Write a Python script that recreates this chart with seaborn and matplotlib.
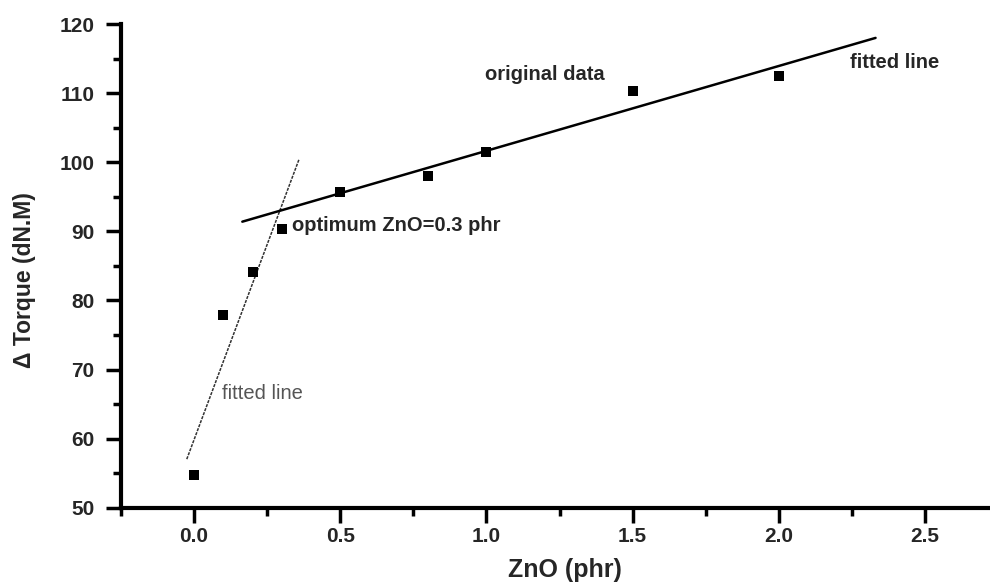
import numpy as np
import pandas as pd
import matplotlib
matplotlib.use("Agg")
import matplotlib.pyplot as plt
import seaborn as sns
from matplotlib.ticker import MultipleLocator

# ---- data ----
zno = [0.0, 0.1, 0.2, 0.3, 0.5, 0.8, 1.0, 1.5, 2.0]
torque = [54.8, 77.9, 84.1, 90.4, 95.7, 98.0, 101.5, 110.35, 112.5]
# points used for the two fitted lines
low_idx = [0, 1, 2, 3]
high_idx = [4, 5, 6, 7, 8]
# drawn extent of each fitted line (x range)
low_range = [-0.025, 0.359]
high_range = [0.165, 2.331]
x_ticks = [0.0, 0.5, 1.0, 1.5, 2.0, 2.5]
y_ticks = [50, 60, 70, 80, 90, 100, 110, 120]

sns.set_theme(style="ticks")
plt.rcParams['font.family'] = ['Liberation Sans', 'DejaVu Sans']

fig = plt.figure(figsize=(9.9, 5.86), dpi=100)
ax = fig.add_axes([121/990, 1-507.7/586, (990-121)/990, (507.7-24)/586])

df = pd.DataFrame({"ZnO": zno, "Torque": torque})

def fit_line(idx, rng):
    xs = np.array([zno[i] for i in idx])
    ys = np.array([torque[i] for i in idx])
    k, b = np.polyfit(xs, ys, 1)
    xx = np.array(rng)
    return pd.DataFrame({"x": xx, "y": k * xx + b})

low = fit_line(low_idx, low_range)
high = fit_line(high_idx, high_range)

sns.lineplot(data=low, x="x", y="y", ax=ax, color="#333333", lw=1.1,
             linestyle=(0, (2, 0.8)))
sns.lineplot(data=high, x="x", y="y", ax=ax, color="black", lw=1.8)
sns.scatterplot(data=df, x="ZnO", y="Torque", ax=ax, marker="s", s=45,
                color="black", edgecolor="black", linewidth=0, zorder=5)

ax.set_xlim(-0.25, 2.7225)
ax.set_ylim(50, 120)
ax.set_xticks(x_ticks)
ax.set_xticklabels([f"{v:.1f}" for v in x_ticks])
ax.set_yticks(y_ticks)
ax.set_yticklabels([str(v) for v in y_ticks])
ax.xaxis.set_minor_locator(MultipleLocator(0.25))
ax.yaxis.set_minor_locator(MultipleLocator(5))

for s in ["top", "right"]:
    ax.spines[s].set_visible(False)
for s in ["left", "bottom"]:
    ax.spines[s].set_linewidth(3)
    ax.spines[s].set_color("black")

ax.tick_params(which="major", length=11, width=2.5, color="black",
               labelsize=15)
ax.tick_params(which="minor", length=6, width=2.5, color="black")
ax.tick_params(axis="x", which="major", pad=3)
ax.tick_params(axis="y", which="major", pad=8)
for lab in ax.get_xticklabels() + ax.get_yticklabels():
    lab.set_fontweight("bold")

ax.set_xlabel("ZnO (phr)", fontsize=18, fontweight="bold", va="center")
ax.set_ylabel("Δ Torque (dN.M)", fontsize=16.5, fontweight="bold", va="center")
ax.xaxis.set_label_coords(0.511, -0.129)
ax.yaxis.set_label_coords(-0.1116, 0.47)

ax.text(0.334, 90.8, "optimum ZnO=0.3 phr", fontsize=14.5, fontweight="bold",
        va="center", ha="left")
ax.text(0.995, 112.7, "original data", fontsize=14.5, fontweight="bold",
        va="center", ha="left")
ax.text(2.243, 114.5, "fitted line", fontsize=14.5, fontweight="bold",
        va="center", ha="left")
ax.text(0.095, 66.55, "fitted line", fontsize=14.5, color="#555555",
        va="center", ha="left")

ax.set_facecolor("white")
fig.patch.set_facecolor("white")
fig.savefig("out.png", dpi=100)
